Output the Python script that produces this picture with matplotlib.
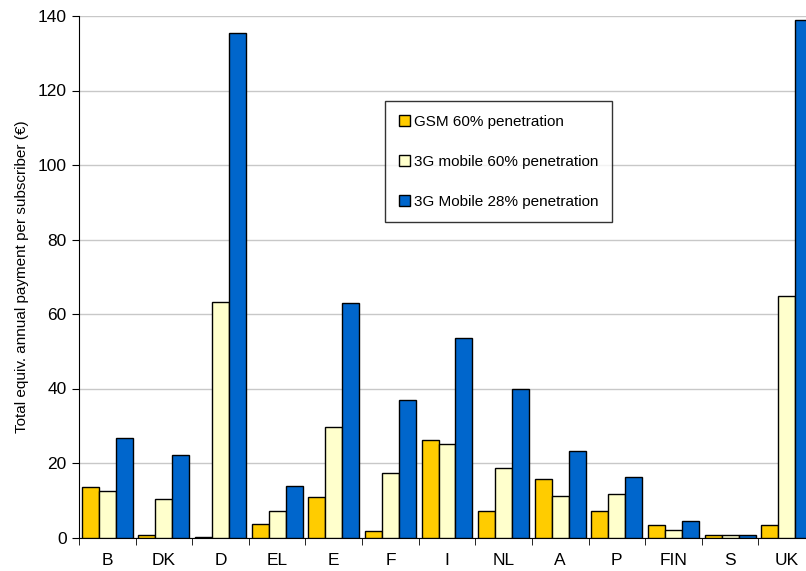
import numpy as np
import matplotlib.pyplot as plt

plt.rcParams['font.family'] = ['Liberation Sans', 'DejaVu Sans']

countries = ['B', 'DK', 'D', 'EL', 'E', 'F', 'I', 'NL', 'A', 'P', 'FIN', 'S', 'UK']
gsm_60 = [13.6, 0.6, 0.2, 3.6, 11.0, 1.7, 26.2, 7.1, 15.6, 7.1, 3.4, 0.8, 3.3]
mobile3g_60 = [12.5, 10.4, 63.2, 7.2, 29.7, 17.3, 25.0, 18.7, 11.1, 11.7, 2.1, 0.6, 64.8]
mobile3g_28 = [26.6, 22.1, 135.4, 13.7, 63.0, 37.0, 53.5, 40.0, 23.1, 16.3, 4.3, 0.6, 138.9]

labels = ['GSM 60% penetration', '3G mobile 60% penetration', '3G Mobile 28% penetration']
colors = ['#FFCC00', '#FFFFCC', '#0066CC']

fig = plt.figure(figsize=(8.06, 5.71), dpi=100)
ax = fig.add_axes([79 / 806, 1 - 537.5 / 571, 736 / 806, 521.5 / 571])

x = np.arange(len(countries))
w = 0.3
series = [gsm_60, mobile3g_60, mobile3g_28]
for i, vals in enumerate(series):
    ax.bar(x + (i - 1) * w, vals, w, color=colors[i], edgecolor='black',
           linewidth=1, label=labels[i], zorder=3)

ax.set_xlim(-0.5, len(countries) - 0.5)
ax.set_ylim(0, 140)
ax.set_yticks(range(0, 141, 20))
ax.yaxis.grid(True, color='#C8C8C8', linewidth=1, zorder=0)
ax.set_axisbelow(True)

ax.set_xticks(x)
ax.set_xticklabels(countries, fontsize=12.5)
ax.set_xticks(np.arange(-0.5, len(countries), 1), minor=True)
ax.tick_params(axis='x', which='major', length=0, pad=11)
ax.tick_params(axis='x', which='minor', length=5, direction='out', color='black')
ax.tick_params(axis='y', length=5, direction='out', labelsize=12.5, pad=4)

ax.spines['top'].set_visible(False)
ax.spines['right'].set_visible(False)
ax.spines['left'].set_color('black')
ax.spines['bottom'].set_color('black')

ax.set_ylabel('Total equiv. annual payment per subscriber (€)', fontsize=11, labelpad=6)

leg = ax.legend(loc='upper left', bbox_to_anchor=(0.416, 0.837), borderaxespad=0,
                fontsize=11, frameon=True, fancybox=False, labelspacing=1.7,
                handlelength=0.7, handleheight=0.7, handletextpad=0.3,
                borderpad=0.9)
leg.get_frame().set_edgecolor('black')
leg.get_frame().set_linewidth(1)

plt.savefig('out.png', dpi=100)
